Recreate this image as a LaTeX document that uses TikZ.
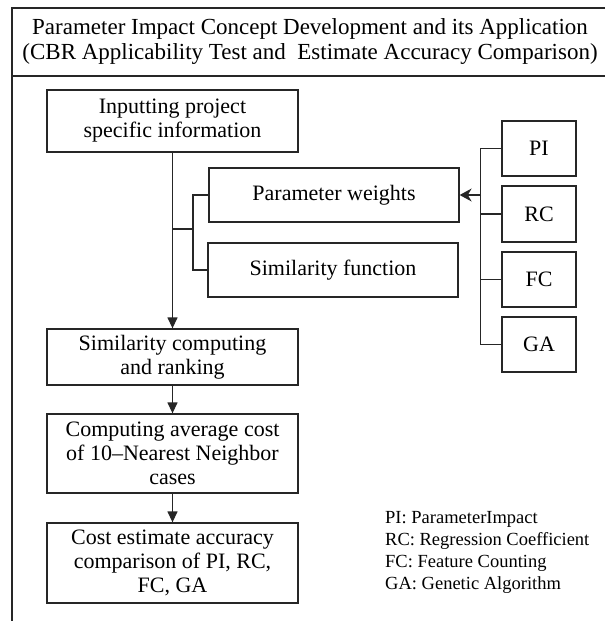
\documentclass[tikz,border=0pt]{standalone}
\usepackage{fontspec}
\setmainfont{Liberation Serif}
\usetikzlibrary{arrows.meta}
\begin{document}
\begin{tikzpicture}[x=1pt,y=-1pt,
  ln/.style={draw=black!85,line width=1.3pt},
  box/.style={ln,align=center,inner sep=1pt,font=\fontsize{22}{24}\selectfont},
  main/.style={box,minimum width=251pt},
  side/.style={box,minimum width=250pt,minimum height=54pt},
  small/.style={box,minimum width=74pt,minimum height=55pt},
  arr/.style={ln,-{Triangle[length=11pt,width=10pt]}},
  sarr/.style={ln,-{Stealth[length=12pt,width=13pt]}}]
\useasboundingbox (0,0) rectangle (605,621);
\fill[white] (0,0) rectangle (605,621);
% frame
\draw[ln] (605,8) -- (12,8) -- (12,621);
\draw[ln] (12,76) -- (605,76);
\node[align=center,font=\fontsize{23}{25}\selectfont] (title) at (310,42)
  {Parameter Impact Concept Development and its Application\\(CBR Applicability Test and\ \ Estimate Accuracy Comparison)};
% main column
\node[main,minimum height=62pt] (inp) at (172.5,121) {Inputting project\\specific information};
\node[main,minimum height=56pt] (sim) at (172.5,357) {Similarity computing\\and ranking};
\node[main,minimum height=79pt] (avg) at (172.5,453.5) {Computing average cost\\of 10--Nearest Neighbor\\cases};
\node[main,minimum height=80pt] (cost) at (172.5,563) {Cost estimate accuracy\\comparison of PI, RC,\\FC, GA};
% side boxes
\node[side] (pw) at (334,195) {Parameter weights};
\node[side] (sf) at (333,270) {Similarity function};
% right boxes
\node[small] (pi) at (539,148.5) {PI};
\node[small,minimum height=56pt] (rc) at (539,214) {RC};
\node[small] (fc) at (539,279.5) {FC};
\node[small] (ga) at (539,344.5) {GA};
% legend
\node[anchor=north west,align=left,inner sep=0pt,font=\fontsize{18.5}{22}\selectfont] (leg) at (385,511)
  {PI: ParameterImpact\\RC: Regression Coefficient\\FC: Feature Counting\\GA: Genetic Algorithm};
% connectors
\draw[arr] (inp.south) -- (sim.north);
\draw[arr] (sim.south) -- (avg.north);
\draw[arr] (avg.south) -- (cost.north);
\coordinate (j) at (172.5,229);
\coordinate (b) at (193,229);
\draw[ln] (j) -- (b);
\draw[ln] (pw.west) -| (b) |- (sf.west);
\coordinate (rb) at (481,195);
\draw[ln] (pi.west) -- ++(-21,0) |- (ga.west);
\draw[ln] (rc.west) -- ++(-21,0);
\draw[ln] (fc.west) -- ++(-21,0);
\draw[sarr] (rb) -- (pw.east);
\end{tikzpicture}
\end{document}
